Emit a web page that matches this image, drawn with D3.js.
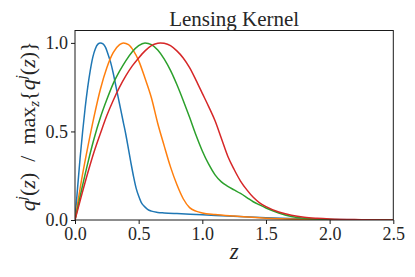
<!DOCTYPE html>
<html>
<head>
<meta charset="utf-8">
<script src="https://cdn.jsdelivr.net/npm/d3@7"></script>
<style>
  html, body { margin: 0; padding: 0; background: #fff; }
  svg { display: block; }
  text { font-family: "Liberation Serif", "DejaVu Serif", serif; fill: #262626; }
</style>
</head>
<body>
<svg id="chart" width="415" height="277"></svg>
<script>
// ---- data ----
const title = "Lensing Kernel";
const xTicks = [0.0, 0.5, 1.0, 1.5, 2.0, 2.5];
const yTicks = [0.0, 0.5, 1.0];
const seriesNames = ["bin1", "bin2", "bin3", "bin4"];
const seriesColors = ["#1f77b4", "#ff7f0e", "#2ca02c", "#d62728"];

const blueZ = [0, 0.02, 0.04, 0.06, 0.08, 0.10, 0.12, 0.14, 0.16, 0.18, 0.20, 0.22, 0.24, 0.26, 0.28, 0.30, 0.32, 0.34, 0.36, 0.38, 0.40, 0.42, 0.44, 0.46, 0.48, 0.50, 0.52, 0.54, 0.57, 0.60, 0.65, 0.70, 0.80, 1.0, 1.2, 1.5, 1.75, 2.0, 2.25, 2.5];
const blueQ = [0, 0.18, 0.35, 0.50, 0.635, 0.75, 0.845, 0.92, 0.967, 0.993, 1.0, 0.995, 0.975, 0.935, 0.89, 0.83, 0.76, 0.69, 0.62, 0.55, 0.48, 0.40, 0.32, 0.245, 0.18, 0.135, 0.10, 0.08, 0.06, 0.05, 0.043, 0.040, 0.036, 0.030, 0.022, 0.013, 0.007, 0.003, 0.001, 0];

const orangeZ = [0, 0.05, 0.10, 0.15, 0.20, 0.25, 0.30, 0.35, 0.38, 0.42, 0.46, 0.50, 0.55, 0.60, 0.65, 0.70, 0.75, 0.80, 0.85, 0.90, 0.95, 1.0, 1.1, 1.25, 1.5, 1.75, 2.0, 2.5];
const orangeQ = [0, 0.22, 0.41, 0.585, 0.74, 0.86, 0.945, 0.99, 1.0, 0.99, 0.955, 0.90, 0.80, 0.69, 0.545, 0.42, 0.30, 0.20, 0.12, 0.07, 0.05, 0.04, 0.031, 0.022, 0.01, 0.004, 0.002, 0];

const greenZ = [0, 0.05, 0.10, 0.15, 0.20, 0.25, 0.30, 0.35, 0.40, 0.45, 0.50, 0.55, 0.60, 0.65, 0.70, 0.75, 0.80, 0.85, 0.90, 0.95, 1.00, 1.05, 1.10, 1.15, 1.20, 1.25, 1.30, 1.35, 1.40, 1.45, 1.50, 1.60, 1.70, 1.80, 2.0, 2.25, 2.5];
const greenQ = [0, 0.165, 0.32, 0.46, 0.58, 0.68, 0.77, 0.84, 0.90, 0.95, 0.985, 1.0, 0.99, 0.96, 0.91, 0.845, 0.765, 0.675, 0.58, 0.48, 0.39, 0.315, 0.255, 0.215, 0.19, 0.17, 0.15, 0.127, 0.103, 0.085, 0.068, 0.04, 0.02, 0.01, 0.003, 0.001, 0];

const redZ = [0, 0.05, 0.10, 0.15, 0.20, 0.25, 0.30, 0.35, 0.40, 0.45, 0.50, 0.55, 0.60, 0.65, 0.67, 0.70, 0.75, 0.80, 0.85, 0.90, 0.95, 1.00, 1.05, 1.10, 1.15, 1.20, 1.25, 1.30, 1.35, 1.40, 1.45, 1.50, 1.60, 1.70, 1.80, 1.90, 2.0, 2.25, 2.5];
const redQ = [0, 0.135, 0.265, 0.385, 0.49, 0.59, 0.675, 0.75, 0.815, 0.87, 0.915, 0.955, 0.985, 0.998, 1.0, 0.998, 0.985, 0.955, 0.915, 0.86, 0.79, 0.715, 0.64, 0.56, 0.46, 0.36, 0.285, 0.22, 0.17, 0.128, 0.097, 0.075, 0.045, 0.027, 0.016, 0.01, 0.006, 0.002, 0];

const seriesZ = [blueZ, orangeZ, greenZ, redZ];
const seriesQ = [blueQ, orangeQ, greenQ, redQ];

// ---- layout ----
const mLeft = 75, mRight = 393.3, mTop = 30.5, mBottom = 220;
const svg = d3.select("#chart");

const x = d3.scaleLinear().domain([0, 2.5]).range([mLeft, mRight]);
const y = d3.scaleLinear().domain([0, 1.07]).range([mBottom, mTop]);

svg.append("defs").append("clipPath").attr("id", "clip")
  .append("rect").attr("x", mLeft).attr("y", mTop).attr("width", mRight - mLeft).attr("height", mBottom - mTop);

// lines
const line = d3.line().x(d => x(d[0])).y(d => y(d[1])).curve(d3.curveMonotoneX);
const gLines = svg.append("g").attr("clip-path", "url(#clip)");
seriesNames.forEach((name, i) => {
  const pts = seriesZ[i].map((z, k) => [z, seriesQ[i][k]]);
  gLines.append("path").datum(pts)
    .attr("d", line)
    .attr("fill", "none")
    .attr("stroke", seriesColors[i])
    .attr("stroke-width", 1.5)
    .attr("stroke-linejoin", "round");
});

// axes
const xAxis = d3.axisBottom(x).tickValues(xTicks).tickFormat(d3.format(".1f")).tickSize(4).tickPadding(3);
const yAxis = d3.axisLeft(y).tickValues(yTicks).tickFormat(d3.format(".1f")).tickSize(4).tickPadding(3);

const gx = svg.append("g").attr("transform", `translate(0,${mBottom})`).call(xAxis);
const gy = svg.append("g").attr("transform", `translate(${mLeft},0)`).call(yAxis);
[gx, gy].forEach(g => {
  g.select(".domain").remove();
  g.selectAll(".tick line").attr("stroke", "#1a1a1a").attr("stroke-width", 1);
  g.selectAll(".tick text").attr("font-size", 18).attr("fill", "#262626")
    .style("font-family", '"Liberation Serif", "DejaVu Serif", serif');
});

// frame
svg.append("rect").attr("x", mLeft).attr("y", mTop).attr("width", mRight - mLeft).attr("height", mBottom - mTop)
  .attr("fill", "none").attr("stroke", "#1a1a1a").attr("stroke-width", 1);

// title
svg.append("text").attr("x", (mLeft + mRight) / 2).attr("y", 25.5)
  .attr("text-anchor", "middle").attr("font-size", 21).text(title);

// x label
svg.append("text").attr("x", (mLeft + mRight) / 2).attr("y", 259)
  .attr("text-anchor", "middle").attr("font-size", 23).attr("font-style", "italic").text("z");

// y label
const yl = svg.append("text")
  .attr("transform", `translate(35,${(mTop + mBottom) / 2 + 1}) rotate(-90)`)
  .attr("text-anchor", "middle").attr("font-size", 22);
yl.append("tspan").attr("font-style", "italic").text("q");
yl.append("tspan").attr("font-style", "italic").attr("font-size", 15).attr("dy", -9).text("j");
yl.append("tspan").attr("dy", 9).text("(");
yl.append("tspan").attr("font-style", "italic").text("z");
yl.append("tspan").text(")\u2002/\u2002max");
yl.append("tspan").attr("font-style", "italic").attr("font-size", 15).attr("dy", 4).text("z");
yl.append("tspan").attr("dy", -4).text("{");
yl.append("tspan").attr("font-style", "italic").text("q");
yl.append("tspan").attr("font-style", "italic").attr("font-size", 15).attr("dy", -9).text("j");
yl.append("tspan").attr("dy", 9).text("(");
yl.append("tspan").attr("font-style", "italic").text("z");
yl.append("tspan").text(")}");
</script>
</body>
</html>
